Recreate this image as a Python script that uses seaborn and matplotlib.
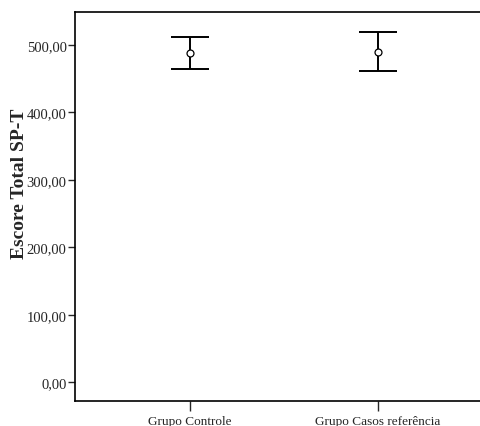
import pandas as pd
import seaborn as sns
import matplotlib.pyplot as plt
from matplotlib.ticker import FuncFormatter

# values
groups = ['Grupo Controle', 'Grupo Casos referência']
means = [488.0, 490.0]
ci_low = [464.5, 461.0]
ci_high = [512.0, 519.0]
y_ticks = [0, 100, 200, 300, 400, 500]

df = pd.DataFrame({'grupo': groups, 'escore': means})

sns.set_style('white')
plt.rcParams['font.family'] = ['Liberation Serif', 'DejaVu Serif']

fig = plt.figure(figsize=(4.8, 4.27), dpi=100)
ax = fig.add_axes([75 / 480, 1 - 402 / 427, 420 / 480, 389 / 427])

sns.pointplot(data=df, x='grupo', y='escore', linestyle='none', errorbar=None,
              marker='o', markersize=5, markerfacecolor='white',
              markeredgecolor='black', markeredgewidth=0.9, color='black', ax=ax, zorder=3)

yerr = [[m - lo for m, lo in zip(means, ci_low)],
        [hi - m for m, hi in zip(means, ci_high)]]
ax.errorbar(range(len(groups)), means, yerr=yerr, fmt='none', ecolor='black',
            elinewidth=1.4, capsize=14, capthick=1.4, zorder=2)

ax.set_ylim(-28, 549)
ax.set_xlim(-0.612, 1.622)
ax.set_yticks(y_ticks)
ax.yaxis.set_major_formatter(FuncFormatter(lambda v, p: f'{v:.2f}'.replace('.', ',')))
ax.set_xlabel('')
ax.set_ylabel('Escore Total SP-T', fontsize=14, fontweight='bold', va='center')
ax.yaxis.set_label_coords(-0.133, 0.56)
ax.tick_params(axis='y', direction='out', length=5, width=1, labelsize=10.5, pad=1, left=True)
ax.tick_params(axis='x', direction='out', length=7, width=1, labelsize=9.5, pad=3, bottom=True)
for s in ax.spines.values():
    s.set_color('black')
    s.set_linewidth(1.2)

fig.savefig('out.png', dpi=100)
